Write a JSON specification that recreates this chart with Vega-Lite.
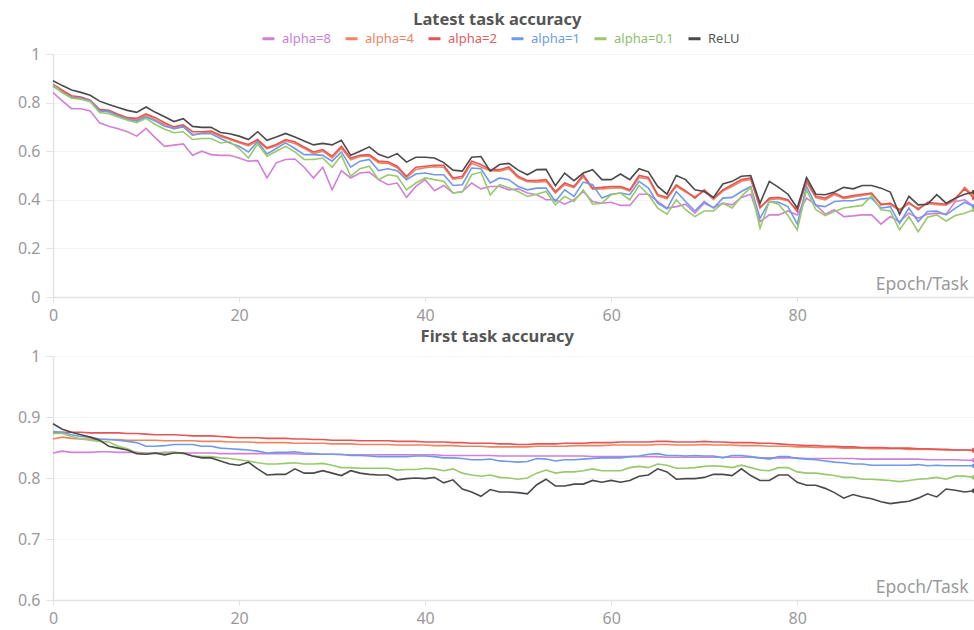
{
"$schema":"https://vega.github.io/schema/vega-lite/v6.json",
"padding":{"left":17,"top":11,"right":0,"bottom":2},
"autosize":{"type":"pad"},
"spacing":5,
"config":{
"font":"Noto Sans",
"view":{"stroke":null},
"axis":{"labelColor":"#9a9a9a","labelFontSize":16,"domainColor":"#e2e2e2","domainWidth":1.5,"tickColor":"#e2e2e2","gridColor":"#f3f3f3","titleColor":"#9a9a9a","titleFontWeight":"normal","titleFontSize":17.5},
"title":{"fontSize":16.5,"fontWeight":"bold","color":"#555555","anchor":"middle","frame":"bounds"}
},
"datasets":{"runs":[
{"epoch":0,"run":"alpha=8","latest":0.841,"first":0.841},{"epoch":1,"run":"alpha=8","latest":0.807,"first":0.844},{"epoch":2,"run":"alpha=8","latest":0.775,"first":0.842},{"epoch":3,"run":"alpha=8","latest":0.775,"first":0.842},{"epoch":4,"run":"alpha=8","latest":0.766,"first":0.842},{"epoch":5,"run":"alpha=8","latest":0.717,"first":0.843},{"epoch":6,"run":"alpha=8","latest":0.703,"first":0.843},{"epoch":7,"run":"alpha=8","latest":0.692,"first":0.842},{"epoch":8,"run":"alpha=8","latest":0.68,"first":0.842},{"epoch":9,"run":"alpha=8","latest":0.662,"first":0.842},
{"epoch":10,"run":"alpha=8","latest":0.694,"first":0.841},{"epoch":11,"run":"alpha=8","latest":0.655,"first":0.841},{"epoch":12,"run":"alpha=8","latest":0.62,"first":0.842},{"epoch":13,"run":"alpha=8","latest":0.625,"first":0.842},{"epoch":14,"run":"alpha=8","latest":0.63,"first":0.841},{"epoch":15,"run":"alpha=8","latest":0.583,"first":0.841},{"epoch":16,"run":"alpha=8","latest":0.6,"first":0.841},{"epoch":17,"run":"alpha=8","latest":0.586,"first":0.841},{"epoch":18,"run":"alpha=8","latest":0.583,"first":0.84},{"epoch":19,"run":"alpha=8","latest":0.583,"first":0.84},
{"epoch":20,"run":"alpha=8","latest":0.572,"first":0.84},{"epoch":21,"run":"alpha=8","latest":0.559,"first":0.84},{"epoch":22,"run":"alpha=8","latest":0.561,"first":0.84},{"epoch":23,"run":"alpha=8","latest":0.49,"first":0.84},{"epoch":24,"run":"alpha=8","latest":0.552,"first":0.84},{"epoch":25,"run":"alpha=8","latest":0.566,"first":0.84},{"epoch":26,"run":"alpha=8","latest":0.568,"first":0.84},{"epoch":27,"run":"alpha=8","latest":0.534,"first":0.839},{"epoch":28,"run":"alpha=8","latest":0.49,"first":0.839},{"epoch":29,"run":"alpha=8","latest":0.534,"first":0.839},
{"epoch":30,"run":"alpha=8","latest":0.441,"first":0.839},{"epoch":31,"run":"alpha=8","latest":0.52,"first":0.838},{"epoch":32,"run":"alpha=8","latest":0.49,"first":0.838},{"epoch":33,"run":"alpha=8","latest":0.51,"first":0.838},{"epoch":34,"run":"alpha=8","latest":0.514,"first":0.838},{"epoch":35,"run":"alpha=8","latest":0.483,"first":0.838},{"epoch":36,"run":"alpha=8","latest":0.462,"first":0.838},{"epoch":37,"run":"alpha=8","latest":0.469,"first":0.838},{"epoch":38,"run":"alpha=8","latest":0.41,"first":0.838},{"epoch":39,"run":"alpha=8","latest":0.455,"first":0.838},
{"epoch":40,"run":"alpha=8","latest":0.483,"first":0.838},{"epoch":41,"run":"alpha=8","latest":0.437,"first":0.838},{"epoch":42,"run":"alpha=8","latest":0.459,"first":0.837},{"epoch":43,"run":"alpha=8","latest":0.428,"first":0.837},{"epoch":44,"run":"alpha=8","latest":0.434,"first":0.837},{"epoch":45,"run":"alpha=8","latest":0.469,"first":0.837},{"epoch":46,"run":"alpha=8","latest":0.445,"first":0.837},{"epoch":47,"run":"alpha=8","latest":0.455,"first":0.837},{"epoch":48,"run":"alpha=8","latest":0.455,"first":0.836},{"epoch":49,"run":"alpha=8","latest":0.441,"first":0.836},
{"epoch":50,"run":"alpha=8","latest":0.445,"first":0.836},{"epoch":51,"run":"alpha=8","latest":0.428,"first":0.836},{"epoch":52,"run":"alpha=8","latest":0.421,"first":0.836},{"epoch":53,"run":"alpha=8","latest":0.4,"first":0.836},{"epoch":54,"run":"alpha=8","latest":0.4,"first":0.836},{"epoch":55,"run":"alpha=8","latest":0.382,"first":0.836},{"epoch":56,"run":"alpha=8","latest":0.4,"first":0.836},{"epoch":57,"run":"alpha=8","latest":0.434,"first":0.836},{"epoch":58,"run":"alpha=8","latest":0.393,"first":0.835},{"epoch":59,"run":"alpha=8","latest":0.386,"first":0.835},
{"epoch":60,"run":"alpha=8","latest":0.39,"first":0.835},{"epoch":61,"run":"alpha=8","latest":0.377,"first":0.835},{"epoch":62,"run":"alpha=8","latest":0.377,"first":0.835},{"epoch":63,"run":"alpha=8","latest":0.423,"first":0.835},{"epoch":64,"run":"alpha=8","latest":0.423,"first":0.835},{"epoch":65,"run":"alpha=8","latest":0.393,"first":0.835},{"epoch":66,"run":"alpha=8","latest":0.366,"first":0.834},{"epoch":67,"run":"alpha=8","latest":0.372,"first":0.834},{"epoch":68,"run":"alpha=8","latest":0.382,"first":0.834},{"epoch":69,"run":"alpha=8","latest":0.345,"first":0.834},
{"epoch":70,"run":"alpha=8","latest":0.386,"first":0.834},{"epoch":71,"run":"alpha=8","latest":0.368,"first":0.834},{"epoch":72,"run":"alpha=8","latest":0.386,"first":0.834},{"epoch":73,"run":"alpha=8","latest":0.379,"first":0.834},{"epoch":74,"run":"alpha=8","latest":0.41,"first":0.834},{"epoch":75,"run":"alpha=8","latest":0.423,"first":0.834},{"epoch":76,"run":"alpha=8","latest":0.31,"first":0.833},{"epoch":77,"run":"alpha=8","latest":0.338,"first":0.833},{"epoch":78,"run":"alpha=8","latest":0.338,"first":0.833},{"epoch":79,"run":"alpha=8","latest":0.354,"first":0.833},
{"epoch":80,"run":"alpha=8","latest":0.338,"first":0.833},{"epoch":81,"run":"alpha=8","latest":0.407,"first":0.832},{"epoch":82,"run":"alpha=8","latest":0.379,"first":0.832},{"epoch":83,"run":"alpha=8","latest":0.341,"first":0.832},{"epoch":84,"run":"alpha=8","latest":0.359,"first":0.832},{"epoch":85,"run":"alpha=8","latest":0.331,"first":0.832},{"epoch":86,"run":"alpha=8","latest":0.334,"first":0.832},{"epoch":87,"run":"alpha=8","latest":0.338,"first":0.831},{"epoch":88,"run":"alpha=8","latest":0.338,"first":0.831},{"epoch":89,"run":"alpha=8","latest":0.3,"first":0.831},
{"epoch":90,"run":"alpha=8","latest":0.331,"first":0.831},{"epoch":91,"run":"alpha=8","latest":0.31,"first":0.831},{"epoch":92,"run":"alpha=8","latest":0.345,"first":0.831},{"epoch":93,"run":"alpha=8","latest":0.324,"first":0.831},{"epoch":94,"run":"alpha=8","latest":0.341,"first":0.83},{"epoch":95,"run":"alpha=8","latest":0.345,"first":0.83},{"epoch":96,"run":"alpha=8","latest":0.341,"first":0.83},{"epoch":97,"run":"alpha=8","latest":0.393,"first":0.83},{"epoch":98,"run":"alpha=8","latest":0.4,"first":0.829},{"epoch":99,"run":"alpha=8","latest":0.372,"first":0.829},
{"epoch":0,"run":"alpha=4","latest":0.868,"first":0.864},{"epoch":1,"run":"alpha=4","latest":0.845,"first":0.867},{"epoch":2,"run":"alpha=4","latest":0.822,"first":0.865},{"epoch":3,"run":"alpha=4","latest":0.82,"first":0.864},{"epoch":4,"run":"alpha=4","latest":0.806,"first":0.864},{"epoch":5,"run":"alpha=4","latest":0.768,"first":0.863},{"epoch":6,"run":"alpha=4","latest":0.762,"first":0.863},{"epoch":7,"run":"alpha=4","latest":0.748,"first":0.863},{"epoch":8,"run":"alpha=4","latest":0.732,"first":0.862},{"epoch":9,"run":"alpha=4","latest":0.728,"first":0.862},
{"epoch":10,"run":"alpha=4","latest":0.748,"first":0.862},{"epoch":11,"run":"alpha=4","latest":0.73,"first":0.862},{"epoch":12,"run":"alpha=4","latest":0.71,"first":0.861},{"epoch":13,"run":"alpha=4","latest":0.692,"first":0.861},{"epoch":14,"run":"alpha=4","latest":0.702,"first":0.861},{"epoch":15,"run":"alpha=4","latest":0.665,"first":0.861},{"epoch":16,"run":"alpha=4","latest":0.675,"first":0.86},{"epoch":17,"run":"alpha=4","latest":0.678,"first":0.86},{"epoch":18,"run":"alpha=4","latest":0.66,"first":0.86},{"epoch":19,"run":"alpha=4","latest":0.648,"first":0.859},
{"epoch":20,"run":"alpha=4","latest":0.635,"first":0.859},{"epoch":21,"run":"alpha=4","latest":0.622,"first":0.859},{"epoch":22,"run":"alpha=4","latest":0.642,"first":0.858},{"epoch":23,"run":"alpha=4","latest":0.61,"first":0.858},{"epoch":24,"run":"alpha=4","latest":0.622,"first":0.858},{"epoch":25,"run":"alpha=4","latest":0.642,"first":0.858},{"epoch":26,"run":"alpha=4","latest":0.632,"first":0.857},{"epoch":27,"run":"alpha=4","latest":0.612,"first":0.857},{"epoch":28,"run":"alpha=4","latest":0.59,"first":0.857},{"epoch":29,"run":"alpha=4","latest":0.6,"first":0.857},
{"epoch":30,"run":"alpha=4","latest":0.572,"first":0.856},{"epoch":31,"run":"alpha=4","latest":0.612,"first":0.856},{"epoch":32,"run":"alpha=4","latest":0.565,"first":0.856},{"epoch":33,"run":"alpha=4","latest":0.578,"first":0.855},{"epoch":34,"run":"alpha=4","latest":0.58,"first":0.855},{"epoch":35,"run":"alpha=4","latest":0.552,"first":0.855},{"epoch":36,"run":"alpha=4","latest":0.55,"first":0.855},{"epoch":37,"run":"alpha=4","latest":0.532,"first":0.854},{"epoch":38,"run":"alpha=4","latest":0.49,"first":0.854},{"epoch":39,"run":"alpha=4","latest":0.525,"first":0.854},
{"epoch":40,"run":"alpha=4","latest":0.532,"first":0.854},{"epoch":41,"run":"alpha=4","latest":0.536,"first":0.853},{"epoch":42,"run":"alpha=4","latest":0.534,"first":0.853},{"epoch":43,"run":"alpha=4","latest":0.485,"first":0.853},{"epoch":44,"run":"alpha=4","latest":0.49,"first":0.852},{"epoch":45,"run":"alpha=4","latest":0.55,"first":0.852},{"epoch":46,"run":"alpha=4","latest":0.535,"first":0.852},{"epoch":47,"run":"alpha=4","latest":0.52,"first":0.851},{"epoch":48,"run":"alpha=4","latest":0.518,"first":0.851},{"epoch":49,"run":"alpha=4","latest":0.528,"first":0.851},
{"epoch":50,"run":"alpha=4","latest":0.49,"first":0.851},{"epoch":51,"run":"alpha=4","latest":0.474,"first":0.851},{"epoch":52,"run":"alpha=4","latest":0.472,"first":0.852},{"epoch":53,"run":"alpha=4","latest":0.476,"first":0.852},{"epoch":54,"run":"alpha=4","latest":0.428,"first":0.852},{"epoch":55,"run":"alpha=4","latest":0.462,"first":0.852},{"epoch":56,"run":"alpha=4","latest":0.45,"first":0.853},{"epoch":57,"run":"alpha=4","latest":0.495,"first":0.853},{"epoch":58,"run":"alpha=4","latest":0.444,"first":0.853},{"epoch":59,"run":"alpha=4","latest":0.445,"first":0.853},
{"epoch":60,"run":"alpha=4","latest":0.448,"first":0.854},{"epoch":61,"run":"alpha=4","latest":0.45,"first":0.854},{"epoch":62,"run":"alpha=4","latest":0.436,"first":0.854},{"epoch":63,"run":"alpha=4","latest":0.492,"first":0.854},{"epoch":64,"run":"alpha=4","latest":0.486,"first":0.854},{"epoch":65,"run":"alpha=4","latest":0.416,"first":0.855},{"epoch":66,"run":"alpha=4","latest":0.404,"first":0.855},{"epoch":67,"run":"alpha=4","latest":0.455,"first":0.854},{"epoch":68,"run":"alpha=4","latest":0.432,"first":0.854},{"epoch":69,"run":"alpha=4","latest":0.413,"first":0.854},
{"epoch":70,"run":"alpha=4","latest":0.436,"first":0.855},{"epoch":71,"run":"alpha=4","latest":0.402,"first":0.854},{"epoch":72,"run":"alpha=4","latest":0.436,"first":0.854},{"epoch":73,"run":"alpha=4","latest":0.455,"first":0.854},{"epoch":74,"run":"alpha=4","latest":0.476,"first":0.853},{"epoch":75,"run":"alpha=4","latest":0.484,"first":0.853},{"epoch":76,"run":"alpha=4","latest":0.372,"first":0.853},{"epoch":77,"run":"alpha=4","latest":0.4,"first":0.852},{"epoch":78,"run":"alpha=4","latest":0.404,"first":0.852},{"epoch":79,"run":"alpha=4","latest":0.396,"first":0.852},
{"epoch":80,"run":"alpha=4","latest":0.36,"first":0.851},{"epoch":81,"run":"alpha=4","latest":0.472,"first":0.851},{"epoch":82,"run":"alpha=4","latest":0.408,"first":0.85},{"epoch":83,"run":"alpha=4","latest":0.4,"first":0.85},{"epoch":84,"run":"alpha=4","latest":0.422,"first":0.85},{"epoch":85,"run":"alpha=4","latest":0.405,"first":0.849},{"epoch":86,"run":"alpha=4","latest":0.412,"first":0.849},{"epoch":87,"run":"alpha=4","latest":0.418,"first":0.849},{"epoch":88,"run":"alpha=4","latest":0.424,"first":0.848},{"epoch":89,"run":"alpha=4","latest":0.385,"first":0.848},
{"epoch":90,"run":"alpha=4","latest":0.38,"first":0.848},{"epoch":91,"run":"alpha=4","latest":0.355,"first":0.848},{"epoch":92,"run":"alpha=4","latest":0.384,"first":0.847},{"epoch":93,"run":"alpha=4","latest":0.365,"first":0.847},{"epoch":94,"run":"alpha=4","latest":0.385,"first":0.847},{"epoch":95,"run":"alpha=4","latest":0.38,"first":0.847},{"epoch":96,"run":"alpha=4","latest":0.378,"first":0.846},{"epoch":97,"run":"alpha=4","latest":0.4,"first":0.846},{"epoch":98,"run":"alpha=4","latest":0.452,"first":0.846},{"epoch":99,"run":"alpha=4","latest":0.415,"first":0.846},
{"epoch":0,"run":"alpha=2","latest":0.876,"first":0.875},{"epoch":1,"run":"alpha=2","latest":0.851,"first":0.875},{"epoch":2,"run":"alpha=2","latest":0.828,"first":0.875},{"epoch":3,"run":"alpha=2","latest":0.823,"first":0.875},{"epoch":4,"run":"alpha=2","latest":0.81,"first":0.874},{"epoch":5,"run":"alpha=2","latest":0.772,"first":0.874},{"epoch":6,"run":"alpha=2","latest":0.768,"first":0.874},{"epoch":7,"run":"alpha=2","latest":0.752,"first":0.874},{"epoch":8,"run":"alpha=2","latest":0.738,"first":0.873},{"epoch":9,"run":"alpha=2","latest":0.735,"first":0.873},
{"epoch":10,"run":"alpha=2","latest":0.754,"first":0.872},{"epoch":11,"run":"alpha=2","latest":0.738,"first":0.871},{"epoch":12,"run":"alpha=2","latest":0.717,"first":0.871},{"epoch":13,"run":"alpha=2","latest":0.7,"first":0.871},{"epoch":14,"run":"alpha=2","latest":0.708,"first":0.87},{"epoch":15,"run":"alpha=2","latest":0.68,"first":0.869},{"epoch":16,"run":"alpha=2","latest":0.68,"first":0.869},{"epoch":17,"run":"alpha=2","latest":0.683,"first":0.869},{"epoch":18,"run":"alpha=2","latest":0.666,"first":0.868},{"epoch":19,"run":"alpha=2","latest":0.652,"first":0.867},
{"epoch":20,"run":"alpha=2","latest":0.639,"first":0.866},{"epoch":21,"run":"alpha=2","latest":0.628,"first":0.866},{"epoch":22,"run":"alpha=2","latest":0.648,"first":0.866},{"epoch":23,"run":"alpha=2","latest":0.614,"first":0.865},{"epoch":24,"run":"alpha=2","latest":0.628,"first":0.865},{"epoch":25,"run":"alpha=2","latest":0.648,"first":0.865},{"epoch":26,"run":"alpha=2","latest":0.639,"first":0.864},{"epoch":27,"run":"alpha=2","latest":0.617,"first":0.864},{"epoch":28,"run":"alpha=2","latest":0.597,"first":0.863},{"epoch":29,"run":"alpha=2","latest":0.607,"first":0.863},
{"epoch":30,"run":"alpha=2","latest":0.579,"first":0.862},{"epoch":31,"run":"alpha=2","latest":0.62,"first":0.862},{"epoch":32,"run":"alpha=2","latest":0.572,"first":0.862},{"epoch":33,"run":"alpha=2","latest":0.583,"first":0.861},{"epoch":34,"run":"alpha=2","latest":0.586,"first":0.861},{"epoch":35,"run":"alpha=2","latest":0.559,"first":0.861},{"epoch":36,"run":"alpha=2","latest":0.556,"first":0.861},{"epoch":37,"run":"alpha=2","latest":0.538,"first":0.86},{"epoch":38,"run":"alpha=2","latest":0.497,"first":0.86},{"epoch":39,"run":"alpha=2","latest":0.534,"first":0.86},
{"epoch":40,"run":"alpha=2","latest":0.538,"first":0.859},{"epoch":41,"run":"alpha=2","latest":0.542,"first":0.859},{"epoch":42,"run":"alpha=2","latest":0.542,"first":0.859},{"epoch":43,"run":"alpha=2","latest":0.49,"first":0.858},{"epoch":44,"run":"alpha=2","latest":0.497,"first":0.858},{"epoch":45,"run":"alpha=2","latest":0.559,"first":0.857},{"epoch":46,"run":"alpha=2","latest":0.545,"first":0.857},{"epoch":47,"run":"alpha=2","latest":0.524,"first":0.857},{"epoch":48,"run":"alpha=2","latest":0.524,"first":0.856},{"epoch":49,"run":"alpha=2","latest":0.535,"first":0.856},
{"epoch":50,"run":"alpha=2","latest":0.497,"first":0.855},{"epoch":51,"run":"alpha=2","latest":0.479,"first":0.855},{"epoch":52,"run":"alpha=2","latest":0.479,"first":0.856},{"epoch":53,"run":"alpha=2","latest":0.483,"first":0.856},{"epoch":54,"run":"alpha=2","latest":0.434,"first":0.856},{"epoch":55,"run":"alpha=2","latest":0.469,"first":0.857},{"epoch":56,"run":"alpha=2","latest":0.455,"first":0.857},{"epoch":57,"run":"alpha=2","latest":0.503,"first":0.857},{"epoch":58,"run":"alpha=2","latest":0.448,"first":0.858},{"epoch":59,"run":"alpha=2","latest":0.451,"first":0.858},
{"epoch":60,"run":"alpha=2","latest":0.455,"first":0.858},{"epoch":61,"run":"alpha=2","latest":0.455,"first":0.859},{"epoch":62,"run":"alpha=2","latest":0.441,"first":0.859},{"epoch":63,"run":"alpha=2","latest":0.5,"first":0.859},{"epoch":64,"run":"alpha=2","latest":0.492,"first":0.859},{"epoch":65,"run":"alpha=2","latest":0.421,"first":0.86},{"epoch":66,"run":"alpha=2","latest":0.41,"first":0.86},{"epoch":67,"run":"alpha=2","latest":0.462,"first":0.859},{"epoch":68,"run":"alpha=2","latest":0.437,"first":0.859},{"epoch":69,"run":"alpha=2","latest":0.407,"first":0.859},
{"epoch":70,"run":"alpha=2","latest":0.441,"first":0.86},{"epoch":71,"run":"alpha=2","latest":0.407,"first":0.859},{"epoch":72,"run":"alpha=2","latest":0.441,"first":0.859},{"epoch":73,"run":"alpha=2","latest":0.462,"first":0.858},{"epoch":74,"run":"alpha=2","latest":0.483,"first":0.858},{"epoch":75,"run":"alpha=2","latest":0.49,"first":0.858},{"epoch":76,"run":"alpha=2","latest":0.366,"first":0.857},{"epoch":77,"run":"alpha=2","latest":0.407,"first":0.857},{"epoch":78,"run":"alpha=2","latest":0.41,"first":0.856},{"epoch":79,"run":"alpha=2","latest":0.4,"first":0.855},
{"epoch":80,"run":"alpha=2","latest":0.352,"first":0.854},{"epoch":81,"run":"alpha=2","latest":0.479,"first":0.853},{"epoch":82,"run":"alpha=2","latest":0.414,"first":0.853},{"epoch":83,"run":"alpha=2","latest":0.407,"first":0.852},{"epoch":84,"run":"alpha=2","latest":0.428,"first":0.852},{"epoch":85,"run":"alpha=2","latest":0.41,"first":0.851},{"epoch":86,"run":"alpha=2","latest":0.418,"first":0.851},{"epoch":87,"run":"alpha=2","latest":0.423,"first":0.85},{"epoch":88,"run":"alpha=2","latest":0.428,"first":0.85},{"epoch":89,"run":"alpha=2","latest":0.379,"first":0.85},
{"epoch":90,"run":"alpha=2","latest":0.386,"first":0.849},{"epoch":91,"run":"alpha=2","latest":0.359,"first":0.849},{"epoch":92,"run":"alpha=2","latest":0.39,"first":0.849},{"epoch":93,"run":"alpha=2","latest":0.359,"first":0.848},{"epoch":94,"run":"alpha=2","latest":0.39,"first":0.848},{"epoch":95,"run":"alpha=2","latest":0.386,"first":0.847},{"epoch":96,"run":"alpha=2","latest":0.382,"first":0.847},{"epoch":97,"run":"alpha=2","latest":0.407,"first":0.846},{"epoch":98,"run":"alpha=2","latest":0.445,"first":0.846},{"epoch":99,"run":"alpha=2","latest":0.407,"first":0.845},
{"epoch":0,"run":"alpha=1","latest":0.869,"first":0.876},{"epoch":1,"run":"alpha=1","latest":0.841,"first":0.875},{"epoch":2,"run":"alpha=1","latest":0.821,"first":0.871},{"epoch":3,"run":"alpha=1","latest":0.818,"first":0.868},{"epoch":4,"run":"alpha=1","latest":0.807,"first":0.867},{"epoch":5,"run":"alpha=1","latest":0.766,"first":0.864},{"epoch":6,"run":"alpha=1","latest":0.763,"first":0.863},{"epoch":7,"run":"alpha=1","latest":0.745,"first":0.862},{"epoch":8,"run":"alpha=1","latest":0.731,"first":0.86},{"epoch":9,"run":"alpha=1","latest":0.724,"first":0.858},
{"epoch":10,"run":"alpha=1","latest":0.741,"first":0.852},{"epoch":11,"run":"alpha=1","latest":0.724,"first":0.852},{"epoch":12,"run":"alpha=1","latest":0.703,"first":0.853},{"epoch":13,"run":"alpha=1","latest":0.694,"first":0.855},{"epoch":14,"run":"alpha=1","latest":0.7,"first":0.855},{"epoch":15,"run":"alpha=1","latest":0.669,"first":0.855},{"epoch":16,"run":"alpha=1","latest":0.672,"first":0.852},{"epoch":17,"run":"alpha=1","latest":0.672,"first":0.852},{"epoch":18,"run":"alpha=1","latest":0.652,"first":0.849},{"epoch":19,"run":"alpha=1","latest":0.634,"first":0.848},
{"epoch":20,"run":"alpha=1","latest":0.62,"first":0.847},{"epoch":21,"run":"alpha=1","latest":0.597,"first":0.846},{"epoch":22,"run":"alpha=1","latest":0.639,"first":0.844},{"epoch":23,"run":"alpha=1","latest":0.589,"first":0.841},{"epoch":24,"run":"alpha=1","latest":0.611,"first":0.842},{"epoch":25,"run":"alpha=1","latest":0.634,"first":0.842},{"epoch":26,"run":"alpha=1","latest":0.611,"first":0.843},{"epoch":27,"run":"alpha=1","latest":0.586,"first":0.841},{"epoch":28,"run":"alpha=1","latest":0.586,"first":0.84},{"epoch":29,"run":"alpha=1","latest":0.583,"first":0.839},
{"epoch":30,"run":"alpha=1","latest":0.559,"first":0.839},{"epoch":31,"run":"alpha=1","latest":0.597,"first":0.839},{"epoch":32,"run":"alpha=1","latest":0.534,"first":0.837},{"epoch":33,"run":"alpha=1","latest":0.559,"first":0.837},{"epoch":34,"run":"alpha=1","latest":0.566,"first":0.836},{"epoch":35,"run":"alpha=1","latest":0.52,"first":0.835},{"epoch":36,"run":"alpha=1","latest":0.528,"first":0.835},{"epoch":37,"run":"alpha=1","latest":0.52,"first":0.835},{"epoch":38,"run":"alpha=1","latest":0.483,"first":0.835},{"epoch":39,"run":"alpha=1","latest":0.506,"first":0.836},
{"epoch":40,"run":"alpha=1","latest":0.51,"first":0.836},{"epoch":41,"run":"alpha=1","latest":0.503,"first":0.835},{"epoch":42,"run":"alpha=1","latest":0.503,"first":0.833},{"epoch":43,"run":"alpha=1","latest":0.459,"first":0.833},{"epoch":44,"run":"alpha=1","latest":0.462,"first":0.832},{"epoch":45,"run":"alpha=1","latest":0.531,"first":0.83},{"epoch":46,"run":"alpha=1","latest":0.528,"first":0.83},{"epoch":47,"run":"alpha=1","latest":0.469,"first":0.831},{"epoch":48,"run":"alpha=1","latest":0.49,"first":0.828},{"epoch":49,"run":"alpha=1","latest":0.483,"first":0.827},
{"epoch":50,"run":"alpha=1","latest":0.455,"first":0.826},{"epoch":51,"run":"alpha=1","latest":0.441,"first":0.827},{"epoch":52,"run":"alpha=1","latest":0.448,"first":0.832},{"epoch":53,"run":"alpha=1","latest":0.448,"first":0.831},{"epoch":54,"run":"alpha=1","latest":0.393,"first":0.828},{"epoch":55,"run":"alpha=1","latest":0.441,"first":0.83},{"epoch":56,"run":"alpha=1","latest":0.414,"first":0.83},{"epoch":57,"run":"alpha=1","latest":0.473,"first":0.831},{"epoch":58,"run":"alpha=1","latest":0.462,"first":0.832},{"epoch":59,"run":"alpha=1","latest":0.407,"first":0.833},
{"epoch":60,"run":"alpha=1","latest":0.423,"first":0.833},{"epoch":61,"run":"alpha=1","latest":0.428,"first":0.833},{"epoch":62,"run":"alpha=1","latest":0.421,"first":0.835},{"epoch":63,"run":"alpha=1","latest":0.476,"first":0.836},{"epoch":64,"run":"alpha=1","latest":0.448,"first":0.839},{"epoch":65,"run":"alpha=1","latest":0.386,"first":0.84},{"epoch":66,"run":"alpha=1","latest":0.363,"first":0.837},{"epoch":67,"run":"alpha=1","latest":0.434,"first":0.837},{"epoch":68,"run":"alpha=1","latest":0.393,"first":0.836},{"epoch":69,"run":"alpha=1","latest":0.354,"first":0.837},
{"epoch":70,"run":"alpha=1","latest":0.393,"first":0.836},{"epoch":71,"run":"alpha=1","latest":0.366,"first":0.836},{"epoch":72,"run":"alpha=1","latest":0.407,"first":0.833},{"epoch":73,"run":"alpha=1","latest":0.41,"first":0.837},{"epoch":74,"run":"alpha=1","latest":0.434,"first":0.837},{"epoch":75,"run":"alpha=1","latest":0.455,"first":0.835},{"epoch":76,"run":"alpha=1","latest":0.324,"first":0.833},{"epoch":77,"run":"alpha=1","latest":0.393,"first":0.831},{"epoch":78,"run":"alpha=1","latest":0.39,"first":0.835},{"epoch":79,"run":"alpha=1","latest":0.372,"first":0.835},
{"epoch":80,"run":"alpha=1","latest":0.3,"first":0.832},{"epoch":81,"run":"alpha=1","latest":0.455,"first":0.831},{"epoch":82,"run":"alpha=1","latest":0.377,"first":0.83},{"epoch":83,"run":"alpha=1","latest":0.372,"first":0.828},{"epoch":84,"run":"alpha=1","latest":0.393,"first":0.826},{"epoch":85,"run":"alpha=1","latest":0.396,"first":0.825},{"epoch":86,"run":"alpha=1","latest":0.396,"first":0.823},{"epoch":87,"run":"alpha=1","latest":0.404,"first":0.823},{"epoch":88,"run":"alpha=1","latest":0.407,"first":0.821},{"epoch":89,"run":"alpha=1","latest":0.366,"first":0.821},
{"epoch":90,"run":"alpha=1","latest":0.372,"first":0.821},{"epoch":91,"run":"alpha=1","latest":0.303,"first":0.821},{"epoch":92,"run":"alpha=1","latest":0.366,"first":0.821},{"epoch":93,"run":"alpha=1","latest":0.31,"first":0.822},{"epoch":94,"run":"alpha=1","latest":0.352,"first":0.82},{"epoch":95,"run":"alpha=1","latest":0.354,"first":0.821},{"epoch":96,"run":"alpha=1","latest":0.338,"first":0.82},{"epoch":97,"run":"alpha=1","latest":0.366,"first":0.82},{"epoch":98,"run":"alpha=1","latest":0.39,"first":0.82},{"epoch":99,"run":"alpha=1","latest":0.372,"first":0.82},
{"epoch":0,"run":"alpha=0.1","latest":0.873,"first":0.873},{"epoch":1,"run":"alpha=0.1","latest":0.841,"first":0.873},{"epoch":2,"run":"alpha=0.1","latest":0.818,"first":0.868},{"epoch":3,"run":"alpha=0.1","latest":0.814,"first":0.864},{"epoch":4,"run":"alpha=0.1","latest":0.804,"first":0.862},{"epoch":5,"run":"alpha=0.1","latest":0.759,"first":0.86},{"epoch":6,"run":"alpha=0.1","latest":0.754,"first":0.859},{"epoch":7,"run":"alpha=0.1","latest":0.741,"first":0.852},{"epoch":8,"run":"alpha=0.1","latest":0.727,"first":0.848},{"epoch":9,"run":"alpha=0.1","latest":0.717,"first":0.841},
{"epoch":10,"run":"alpha=0.1","latest":0.735,"first":0.84},{"epoch":11,"run":"alpha=0.1","latest":0.71,"first":0.84},{"epoch":12,"run":"alpha=0.1","latest":0.69,"first":0.841},{"epoch":13,"run":"alpha=0.1","latest":0.676,"first":0.842},{"epoch":14,"run":"alpha=0.1","latest":0.68,"first":0.84},{"epoch":15,"run":"alpha=0.1","latest":0.648,"first":0.836},{"epoch":16,"run":"alpha=0.1","latest":0.652,"first":0.835},{"epoch":17,"run":"alpha=0.1","latest":0.652,"first":0.835},{"epoch":18,"run":"alpha=0.1","latest":0.634,"first":0.833},{"epoch":19,"run":"alpha=0.1","latest":0.639,"first":0.832},
{"epoch":20,"run":"alpha=0.1","latest":0.611,"first":0.83},{"epoch":21,"run":"alpha=0.1","latest":0.572,"first":0.828},{"epoch":22,"run":"alpha=0.1","latest":0.63,"first":0.825},{"epoch":23,"run":"alpha=0.1","latest":0.579,"first":0.823},{"epoch":24,"run":"alpha=0.1","latest":0.6,"first":0.823},{"epoch":25,"run":"alpha=0.1","latest":0.62,"first":0.824},{"epoch":26,"run":"alpha=0.1","latest":0.597,"first":0.825},{"epoch":27,"run":"alpha=0.1","latest":0.566,"first":0.823},{"epoch":28,"run":"alpha=0.1","latest":0.566,"first":0.823},{"epoch":29,"run":"alpha=0.1","latest":0.572,"first":0.824},
{"epoch":30,"run":"alpha=0.1","latest":0.534,"first":0.821},{"epoch":31,"run":"alpha=0.1","latest":0.583,"first":0.817},{"epoch":32,"run":"alpha=0.1","latest":0.497,"first":0.817},{"epoch":33,"run":"alpha=0.1","latest":0.528,"first":0.816},{"epoch":34,"run":"alpha=0.1","latest":0.538,"first":0.816},{"epoch":35,"run":"alpha=0.1","latest":0.483,"first":0.816},{"epoch":36,"run":"alpha=0.1","latest":0.503,"first":0.816},{"epoch":37,"run":"alpha=0.1","latest":0.497,"first":0.813},{"epoch":38,"run":"alpha=0.1","latest":0.441,"first":0.814},{"epoch":39,"run":"alpha=0.1","latest":0.469,"first":0.814},
{"epoch":40,"run":"alpha=0.1","latest":0.49,"first":0.816},{"epoch":41,"run":"alpha=0.1","latest":0.483,"first":0.815},{"epoch":42,"run":"alpha=0.1","latest":0.476,"first":0.812},{"epoch":43,"run":"alpha=0.1","latest":0.428,"first":0.815},{"epoch":44,"run":"alpha=0.1","latest":0.432,"first":0.808},{"epoch":45,"run":"alpha=0.1","latest":0.503,"first":0.805},{"epoch":46,"run":"alpha=0.1","latest":0.514,"first":0.803},{"epoch":47,"run":"alpha=0.1","latest":0.421,"first":0.805},{"epoch":48,"run":"alpha=0.1","latest":0.462,"first":0.801},{"epoch":49,"run":"alpha=0.1","latest":0.45,"first":0.8},
{"epoch":50,"run":"alpha=0.1","latest":0.434,"first":0.798},{"epoch":51,"run":"alpha=0.1","latest":0.414,"first":0.8},{"epoch":52,"run":"alpha=0.1","latest":0.423,"first":0.808},{"epoch":53,"run":"alpha=0.1","latest":0.434,"first":0.813},{"epoch":54,"run":"alpha=0.1","latest":0.379,"first":0.808},{"epoch":55,"run":"alpha=0.1","latest":0.414,"first":0.81},{"epoch":56,"run":"alpha=0.1","latest":0.393,"first":0.81},{"epoch":57,"run":"alpha=0.1","latest":0.441,"first":0.812},{"epoch":58,"run":"alpha=0.1","latest":0.382,"first":0.815},{"epoch":59,"run":"alpha=0.1","latest":0.386,"first":0.812},
{"epoch":60,"run":"alpha=0.1","latest":0.421,"first":0.812},{"epoch":61,"run":"alpha=0.1","latest":0.428,"first":0.812},{"epoch":62,"run":"alpha=0.1","latest":0.4,"first":0.817},{"epoch":63,"run":"alpha=0.1","latest":0.459,"first":0.819},{"epoch":64,"run":"alpha=0.1","latest":0.421,"first":0.817},{"epoch":65,"run":"alpha=0.1","latest":0.366,"first":0.823},{"epoch":66,"run":"alpha=0.1","latest":0.341,"first":0.821},{"epoch":67,"run":"alpha=0.1","latest":0.4,"first":0.816},{"epoch":68,"run":"alpha=0.1","latest":0.359,"first":0.816},{"epoch":69,"run":"alpha=0.1","latest":0.331,"first":0.817},
{"epoch":70,"run":"alpha=0.1","latest":0.354,"first":0.819},{"epoch":71,"run":"alpha=0.1","latest":0.354,"first":0.82},{"epoch":72,"run":"alpha=0.1","latest":0.386,"first":0.819},{"epoch":73,"run":"alpha=0.1","latest":0.366,"first":0.817},{"epoch":74,"run":"alpha=0.1","latest":0.414,"first":0.821},{"epoch":75,"run":"alpha=0.1","latest":0.451,"first":0.817},{"epoch":76,"run":"alpha=0.1","latest":0.283,"first":0.813},{"epoch":77,"run":"alpha=0.1","latest":0.393,"first":0.812},{"epoch":78,"run":"alpha=0.1","latest":0.382,"first":0.817},{"epoch":79,"run":"alpha=0.1","latest":0.335,"first":0.817},
{"epoch":80,"run":"alpha=0.1","latest":0.276,"first":0.81},{"epoch":81,"run":"alpha=0.1","latest":0.441,"first":0.808},{"epoch":82,"run":"alpha=0.1","latest":0.359,"first":0.808},{"epoch":83,"run":"alpha=0.1","latest":0.335,"first":0.806},{"epoch":84,"run":"alpha=0.1","latest":0.352,"first":0.804},{"epoch":85,"run":"alpha=0.1","latest":0.366,"first":0.801},{"epoch":86,"run":"alpha=0.1","latest":0.372,"first":0.801},{"epoch":87,"run":"alpha=0.1","latest":0.377,"first":0.798},{"epoch":88,"run":"alpha=0.1","latest":0.418,"first":0.798},{"epoch":89,"run":"alpha=0.1","latest":0.359,"first":0.797},
{"epoch":90,"run":"alpha=0.1","latest":0.354,"first":0.796},{"epoch":91,"run":"alpha=0.1","latest":0.276,"first":0.794},{"epoch":92,"run":"alpha=0.1","latest":0.331,"first":0.796},{"epoch":93,"run":"alpha=0.1","latest":0.269,"first":0.798},{"epoch":94,"run":"alpha=0.1","latest":0.328,"first":0.799},{"epoch":95,"run":"alpha=0.1","latest":0.338,"first":0.801},{"epoch":96,"run":"alpha=0.1","latest":0.313,"first":0.798},{"epoch":97,"run":"alpha=0.1","latest":0.335,"first":0.803},{"epoch":98,"run":"alpha=0.1","latest":0.345,"first":0.803},{"epoch":99,"run":"alpha=0.1","latest":0.359,"first":0.801},
{"epoch":0,"run":"ReLU","latest":0.89,"first":0.889},{"epoch":1,"run":"ReLU","latest":0.87,"first":0.88},{"epoch":2,"run":"ReLU","latest":0.852,"first":0.875},{"epoch":3,"run":"ReLU","latest":0.842,"first":0.871},{"epoch":4,"run":"ReLU","latest":0.83,"first":0.867},{"epoch":5,"run":"ReLU","latest":0.806,"first":0.862},{"epoch":6,"run":"ReLU","latest":0.792,"first":0.852},{"epoch":7,"run":"ReLU","latest":0.78,"first":0.849},{"epoch":8,"run":"ReLU","latest":0.768,"first":0.846},{"epoch":9,"run":"ReLU","latest":0.76,"first":0.84},
{"epoch":10,"run":"ReLU","latest":0.782,"first":0.839},{"epoch":11,"run":"ReLU","latest":0.76,"first":0.841},{"epoch":12,"run":"ReLU","latest":0.742,"first":0.838},{"epoch":13,"run":"ReLU","latest":0.722,"first":0.841},{"epoch":14,"run":"ReLU","latest":0.734,"first":0.841},{"epoch":15,"run":"ReLU","latest":0.702,"first":0.836},{"epoch":16,"run":"ReLU","latest":0.698,"first":0.833},{"epoch":17,"run":"ReLU","latest":0.698,"first":0.833},{"epoch":18,"run":"ReLU","latest":0.677,"first":0.828},{"epoch":19,"run":"ReLU","latest":0.672,"first":0.823},
{"epoch":20,"run":"ReLU","latest":0.662,"first":0.821},{"epoch":21,"run":"ReLU","latest":0.648,"first":0.826},{"epoch":22,"run":"ReLU","latest":0.68,"first":0.815},{"epoch":23,"run":"ReLU","latest":0.645,"first":0.805},{"epoch":24,"run":"ReLU","latest":0.658,"first":0.806},{"epoch":25,"run":"ReLU","latest":0.673,"first":0.806},{"epoch":26,"run":"ReLU","latest":0.658,"first":0.815},{"epoch":27,"run":"ReLU","latest":0.642,"first":0.808},{"epoch":28,"run":"ReLU","latest":0.626,"first":0.808},{"epoch":29,"run":"ReLU","latest":0.632,"first":0.812},
{"epoch":30,"run":"ReLU","latest":0.626,"first":0.808},{"epoch":31,"run":"ReLU","latest":0.645,"first":0.804},{"epoch":32,"run":"ReLU","latest":0.583,"first":0.812},{"epoch":33,"run":"ReLU","latest":0.6,"first":0.808},{"epoch":34,"run":"ReLU","latest":0.618,"first":0.806},{"epoch":35,"run":"ReLU","latest":0.587,"first":0.805},{"epoch":36,"run":"ReLU","latest":0.573,"first":0.805},{"epoch":37,"run":"ReLU","latest":0.59,"first":0.797},{"epoch":38,"run":"ReLU","latest":0.555,"first":0.799},{"epoch":39,"run":"ReLU","latest":0.575,"first":0.8},
{"epoch":40,"run":"ReLU","latest":0.575,"first":0.799},{"epoch":41,"run":"ReLU","latest":0.572,"first":0.801},{"epoch":42,"run":"ReLU","latest":0.553,"first":0.792},{"epoch":43,"run":"ReLU","latest":0.522,"first":0.797},{"epoch":44,"run":"ReLU","latest":0.518,"first":0.782},{"epoch":45,"run":"ReLU","latest":0.575,"first":0.777},{"epoch":46,"run":"ReLU","latest":0.578,"first":0.77},{"epoch":47,"run":"ReLU","latest":0.518,"first":0.781},{"epoch":48,"run":"ReLU","latest":0.545,"first":0.777},{"epoch":49,"run":"ReLU","latest":0.55,"first":0.777},
{"epoch":50,"run":"ReLU","latest":0.522,"first":0.776},{"epoch":51,"run":"ReLU","latest":0.503,"first":0.774},{"epoch":52,"run":"ReLU","latest":0.524,"first":0.789},{"epoch":53,"run":"ReLU","latest":0.525,"first":0.798},{"epoch":54,"run":"ReLU","latest":0.458,"first":0.787},{"epoch":55,"run":"ReLU","latest":0.51,"first":0.787},{"epoch":56,"run":"ReLU","latest":0.479,"first":0.79},{"epoch":57,"run":"ReLU","latest":0.51,"first":0.79},{"epoch":58,"run":"ReLU","latest":0.524,"first":0.796},{"epoch":59,"run":"ReLU","latest":0.483,"first":0.793},
{"epoch":60,"run":"ReLU","latest":0.483,"first":0.796},{"epoch":61,"run":"ReLU","latest":0.506,"first":0.793},{"epoch":62,"run":"ReLU","latest":0.483,"first":0.796},{"epoch":63,"run":"ReLU","latest":0.528,"first":0.803},{"epoch":64,"run":"ReLU","latest":0.515,"first":0.805},{"epoch":65,"run":"ReLU","latest":0.455,"first":0.815},{"epoch":66,"run":"ReLU","latest":0.423,"first":0.81},{"epoch":67,"run":"ReLU","latest":0.5,"first":0.798},{"epoch":68,"run":"ReLU","latest":0.483,"first":0.799},{"epoch":69,"run":"ReLU","latest":0.441,"first":0.799},
{"epoch":70,"run":"ReLU","latest":0.434,"first":0.801},{"epoch":71,"run":"ReLU","latest":0.41,"first":0.806},{"epoch":72,"run":"ReLU","latest":0.465,"first":0.806},{"epoch":73,"run":"ReLU","latest":0.476,"first":0.804},{"epoch":74,"run":"ReLU","latest":0.497,"first":0.815},{"epoch":75,"run":"ReLU","latest":0.5,"first":0.804},{"epoch":76,"run":"ReLU","latest":0.386,"first":0.796},{"epoch":77,"run":"ReLU","latest":0.476,"first":0.796},{"epoch":78,"run":"ReLU","latest":0.451,"first":0.805},{"epoch":79,"run":"ReLU","latest":0.423,"first":0.805},
{"epoch":80,"run":"ReLU","latest":0.366,"first":0.793},{"epoch":81,"run":"ReLU","latest":0.492,"first":0.788},{"epoch":82,"run":"ReLU","latest":0.423,"first":0.788},{"epoch":83,"run":"ReLU","latest":0.421,"first":0.783},{"epoch":84,"run":"ReLU","latest":0.432,"first":0.776},{"epoch":85,"run":"ReLU","latest":0.451,"first":0.767},{"epoch":86,"run":"ReLU","latest":0.445,"first":0.773},{"epoch":87,"run":"ReLU","latest":0.459,"first":0.769},{"epoch":88,"run":"ReLU","latest":0.459,"first":0.766},{"epoch":89,"run":"ReLU","latest":0.448,"first":0.761},
{"epoch":90,"run":"ReLU","latest":0.432,"first":0.758},{"epoch":91,"run":"ReLU","latest":0.34,"first":0.76},{"epoch":92,"run":"ReLU","latest":0.414,"first":0.762},{"epoch":93,"run":"ReLU","latest":0.379,"first":0.767},{"epoch":94,"run":"ReLU","latest":0.382,"first":0.774},{"epoch":95,"run":"ReLU","latest":0.421,"first":0.769},{"epoch":96,"run":"ReLU","latest":0.386,"first":0.782},{"epoch":97,"run":"ReLU","latest":0.407,"first":0.78},{"epoch":98,"run":"ReLU","latest":0.423,"first":0.777},{"epoch":99,"run":"ReLU","latest":0.432,"first":0.779}
]},
"data":{"name":"runs"},
"vconcat":[
{
"title":{"text":"Latest task accuracy","offset":3},
"width":921,"height":243,
"layer":[
{"mark":{"type":"line","strokeWidth":1.6},
"encoding":{
"x":{"field":"epoch","type":"quantitative","scale":{"domain":[0,99],"nice":false},"axis":{"values":[0,20,40,60,80],"grid":false,"labelFlush":false,"tickSize":5,"labelPadding":5,"title":"Epoch/Task","titleAnchor":"end","titleAlign":"right","titleBaseline":"bottom","titleX":915,"titleY":-4}},
"y":{"field":"latest","type":"quantitative","scale":{"domain":[0,1],"nice":false},"axis":{"values":[0,0.2,0.4,0.6,0.8,1],"format":"~g","title":null,"tickSize":7,"labelPadding":6}},
"color":{"field":"run","type":"nominal","sort":null,"scale":{"domain":["alpha=8","alpha=4","alpha=2","alpha=1","alpha=0.1","ReLU"],"range":["#d27fd7","#ee8462","#e35656","#6d9ae9","#98c96c","#4a4a4a"]},
"legend":{"orient":"none","legendX":208,"legendY":-23,"direction":"horizontal","title":null,"symbolType":"stroke","symbolStrokeWidth":3,"symbolSize":144,"labelFontSize":13,"columnPadding":8,"labelOffset":6,
"encode":{"labels":{"update":{"fill":{"signal":"datum.label == 'alpha=8' ? '#c97ed3' : datum.label == 'alpha=4' ? '#ec8466' : datum.label == 'alpha=2' ? '#e35d5d' : datum.label == 'alpha=1' ? '#6d9be9' : datum.label == 'alpha=0.1' ? '#8cbf6a' : '#555555'"}}}}}
}}},
{"transform":[{"filter":"datum.epoch == 99"}],
"mark":{"type":"point","filled":true,"size":22,"opacity":1},
"encoding":{
"x":{"field":"epoch","type":"quantitative"},
"y":{"field":"latest","type":"quantitative"},
"color":{"field":"run","type":"nominal","legend":null}
}}
]
},
{
"title":{"text":"First task accuracy","offset":3},
"width":921,"height":244,
"layer":[
{"mark":{"type":"line","strokeWidth":1.6},
"encoding":{
"x":{"field":"epoch","type":"quantitative","scale":{"domain":[0,99],"nice":false},"axis":{"values":[0,20,40,60,80],"grid":false,"labelFlush":false,"tickSize":5,"labelPadding":5,"title":"Epoch/Task","titleAnchor":"end","titleAlign":"right","titleBaseline":"bottom","titleX":915,"titleY":-4}},
"y":{"field":"first","type":"quantitative","scale":{"domain":[0.6,1],"nice":false},"axis":{"values":[0.6,0.7,0.8,0.9,1],"format":"~g","title":null,"tickSize":7,"labelPadding":6}},
"color":{"field":"run","type":"nominal","sort":null,"scale":{"domain":["alpha=8","alpha=4","alpha=2","alpha=1","alpha=0.1","ReLU"],"range":["#d27fd7","#ee8462","#e35656","#6d9ae9","#98c96c","#4a4a4a"]},"legend":null}
}},
{"transform":[{"filter":"datum.epoch == 99"}],
"mark":{"type":"point","filled":true,"size":22,"opacity":1},
"encoding":{
"x":{"field":"epoch","type":"quantitative"},
"y":{"field":"first","type":"quantitative"},
"color":{"field":"run","type":"nominal","legend":null}
}}
]
}
],
"resolve":{"scale":{"color":"independent"},"legend":{"color":"independent"}}
}
